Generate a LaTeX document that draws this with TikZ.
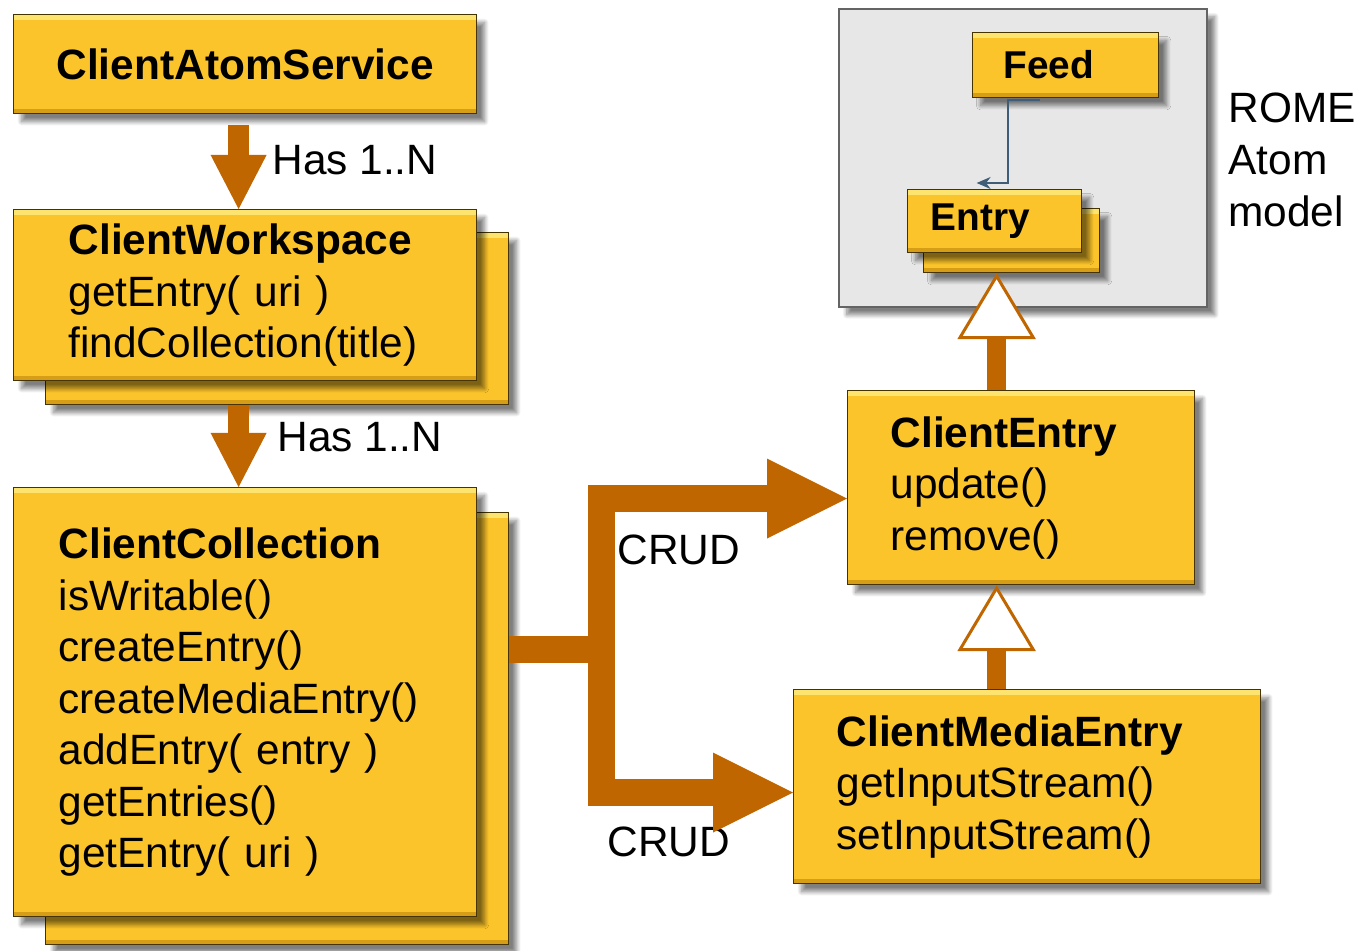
\documentclass[tikz,border=0pt]{standalone}
\usepackage{fontspec}
\setmainfont{Liberation Sans}
\usetikzlibrary{arrows.meta,shadows.blur,calc}

\definecolor{gold}{RGB}{251,196,42}
\definecolor{goldLight}{RGB}{253,228,110}
\definecolor{goldDark}{RGB}{214,158,22}
\definecolor{goldEdge}{RGB}{70,52,0}
\definecolor{rust}{RGB}{192,102,0}
\definecolor{romeGray}{RGB}{231,231,231}
\definecolor{romeEdge}{RGB}{100,100,100}
\definecolor{slate}{RGB}{62,94,119}

\newcommand{\bigfont}{\fontsize{21.2}{25.75}\selectfont}
\newcommand{\smallfont}{\fontsize{19.4}{23}\selectfont}

\begin{document}
\begin{tikzpicture}[x=0.5pt, y=-0.5pt,
		cls/.style={
			draw=goldEdge,
			line width=0.6pt,
			fill=gold,
			anchor=north west,
			font=\bigfont,
			align=left,
			blur shadow={shadow xshift=4pt, shadow yshift=-4pt, shadow blur steps=10, shadow opacity=50},
			path picture={
				\fill[goldLight] (path picture bounding box.north west) rectangle ([yshift=-2.5pt]path picture bounding box.north east);
				\fill[goldDark] (path picture bounding box.south west) rectangle ([yshift=2.5pt]path picture bounding box.south east);
			}},
		model/.style={
			draw=romeEdge,
			line width=0.8pt,
			fill=romeGray,
			anchor=north west,
			blur shadow={shadow xshift=4pt, shadow yshift=-4pt, shadow blur steps=10, shadow opacity=50}},
		has/.style={rust, line width=10.5pt, -{Triangle[width=28pt,length=27pt,line width=0pt]}},
		crud/.style={rust, line width=13.5pt, line join=miter, -{Triangle[width=40pt,length=40pt,line width=0pt]}},
		isa/.style={rust, line width=9.5pt, -{Triangle[width=39pt,length=33pt,line width=1.5pt,fill=white]}},
		assoc/.style={slate, line width=0.9pt, -{Stealth[width=6pt,length=7pt]}},
		lbl/.style={font=\bigfont, inner sep=0pt}]

	\useasboundingbox (0,0) rectangle (1364,951);

	% ROME side
	\node (rome) [model, minimum width=184pt, minimum height=149pt] at (838,8) {};
	\node (feed) [cls, font=\smallfont, minimum width=93pt, minimum height=32.5pt, inner xsep=15.5pt, text width=62pt] at (972,32) {\textbf{Feed}};
	\node (entryB) [cls, minimum width=88pt, minimum height=32pt] at (923,208) {};
	\node (entry) [cls, font=\smallfont, minimum width=87pt, minimum height=31.5pt, inner xsep=11.5pt, text width=64pt] at (907,189) {\textbf{Entry}};
	\node (romeLbl) [lbl, anchor=north west, align=left] at (1228,93) {ROME\\Atom\\model};

	% client side
	\node (svc) [cls, align=center, minimum width=231.5pt, minimum height=49.5pt] at (13,14) {\textbf{ClientAtomService}};
	\node (wsB) [cls, minimum width=231.5pt, minimum height=86pt] at (45,232) {};
	\node (ws) [cls, minimum height=85.5pt, inner xsep=27.5pt, text width=176.5pt] at (13,209) {\textbf{ClientWorkspace}\\getEntry( uri )\\findCollection(title)};
	\node (collB) [cls, minimum width=231.5pt, minimum height=216pt] at (45,512) {};
	\node (coll) [cls, minimum height=214.5pt, inner xsep=22.5pt, text width=186.5pt] at (13,487) {\textbf{ClientCollection}\\isWritable()\\createEntry()\\createMediaEntry()\\addEntry( entry )\\getEntries()\\getEntry( uri )};
	\node (ent) [cls, minimum height=97pt, inner xsep=21.5pt, text width=130.5pt] at (847,390) {\textbf{ClientEntry}\\update()\\remove()};
	\node (media) [cls, minimum height=97pt, inner xsep=21.5pt, text width=190.5pt] at (793,689) {\textbf{ClientMediaEntry}\\getInputStream()\\setInputStream()};

	\node (has1) [lbl, anchor=west] at (272,160) {Has 1..N};
	\node (has2) [lbl, anchor=west] at (277,437) {Has 1..N};
	\node (crud1) [lbl, anchor=west] at (617,550) {CRUD};
	\node (crud2) [lbl, anchor=west] at (607,842) {CRUD};

	% connectors
	\coordinate (wsFoot) at ($(ws.south |- wsB.south)+(-6.5,0)$);
	\draw[has] ([xshift=-3.25pt,yshift=-5.5pt]svc.south) -- ([xshift=-3.25pt]ws.north);
	\draw[has] (wsFoot) -- ([xshift=-3.25pt]coll.north);

	\coordinate (fork) at (601,649);
	\draw[crud] (collB.east |- fork) -- (fork) |- ([yshift=-5.5pt]ent.west);
	\draw[crud] (fork) |- ([yshift=-3pt]media.west);

	\draw[isa] ([xshift=-12.25pt]ent.north) -- ([xshift=-7.5pt]entryB.south);
	\draw[isa] ([xshift=-15.25pt]media.north) -- ([xshift=-12.25pt]ent.south);

	\draw[assoc] ([xshift=-13pt,yshift=-1pt]feed.south) -- ++(-32,0) |- ([xshift=-9pt,yshift=3pt]entry.north);
\end{tikzpicture}
\end{document}
